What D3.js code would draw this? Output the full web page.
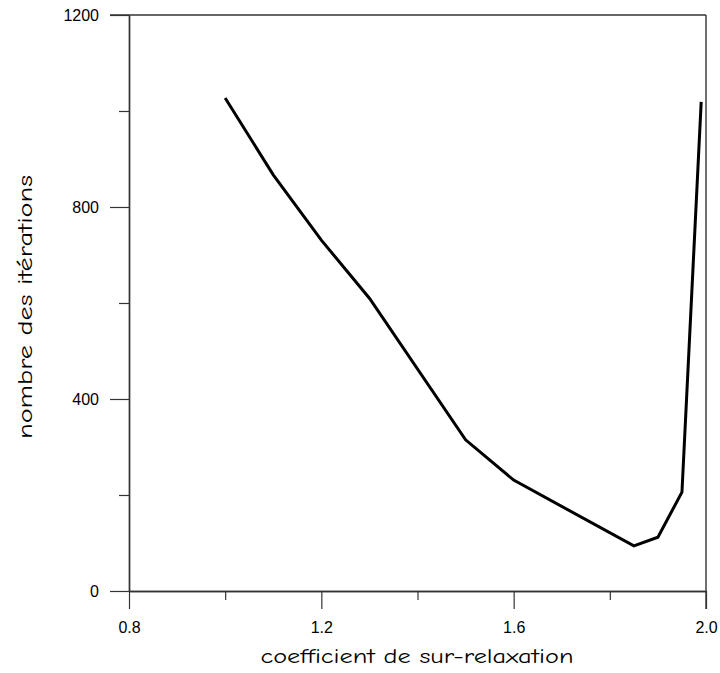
<!DOCTYPE html>
<html>
<head>
<meta charset="utf-8">
<script src="https://cdn.jsdelivr.net/npm/d3@7"></script>
<style>
  html, body { margin: 0; padding: 0; background: #fff; }
  svg { display: block; }
</style>
</head>
<body>
<script>
// Relaxation coefficient (omega) vs. number of iterations to converge
const omega = [1.0, 1.1, 1.2, 1.3, 1.5, 1.6, 1.85, 1.9, 1.95, 1.99];
const iterations = [1027, 867, 731, 610, 315, 231, 94, 112, 206, 1019];

const xMajorTicks = [0.8, 1.2, 1.6, 2.0];
const xMinorTicks = [1.0, 1.4, 1.8];
const yMajorTicks = [0, 400, 800, 1200];
const yMinorTicks = [200, 600, 1000];

const W = 720, H = 673;
const margin = { left: 129, top: 15, right: 14, bottom: 82 };
const iw = W - margin.left - margin.right;
const ih = H - margin.top - margin.bottom;

const tickFont = "'Liberation Sans', Arial, sans-serif";
const titleFont = "'Comic Sans MS', 'Comic Neue', 'DejaVu Sans', sans-serif";

const svg = d3.select("body").append("svg").attr("width", W).attr("height", H);
const g = svg.append("g").attr("transform", `translate(${margin.left},${margin.top})`);

const x = d3.scaleLinear().domain([0.8, 2.0]).range([0, iw]);
const y = d3.scaleLinear().domain([0, 1200]).range([ih, 0]);

const axisStroke = "#333";

// Bottom axis: major ticks labelled, minor ticks shorter
g.append("g").attr("transform", `translate(0,${ih})`)
  .call(d3.axisBottom(x).tickValues(xMajorTicks).tickFormat(d3.format(".1f")).tickSize(18).tickSizeOuter(0).tickPadding(13));
g.append("g").attr("transform", `translate(0,${ih})`)
  .call(d3.axisBottom(x).tickValues(xMinorTicks).tickFormat("").tickSize(9).tickSizeOuter(0));

// Left axis
g.append("g")
  .call(d3.axisLeft(y).tickValues(yMajorTicks).tickFormat(d3.format("d")).tickSize(19).tickSizeOuter(0).tickPadding(11));
g.append("g")
  .call(d3.axisLeft(y).tickValues(yMinorTicks).tickFormat("").tickSize(10).tickSizeOuter(0));

g.selectAll(".tick text")
  .attr("font-family", tickFont)
  .attr("font-size", 16)
  .attr("fill", "#000");

// Top and right frame edges
g.append("line").attr("x1", -19).attr("x2", iw).attr("y1", 0).attr("y2", 0)
  .attr("stroke", axisStroke).attr("stroke-width", 1.4);
g.append("line").attr("x1", iw).attr("x2", iw).attr("y1", 0).attr("y2", ih + 18)
  .attr("stroke", axisStroke).attr("stroke-width", 1.4);

g.selectAll(".domain").attr("stroke", axisStroke).attr("stroke-width", 1.4);
g.selectAll(".tick line").attr("stroke", axisStroke).attr("stroke-width", 1.2);

// Data line
const pts = omega.map((o, i) => [o, iterations[i]]);
g.append("path")
  .datum(pts)
  .attr("fill", "none")
  .attr("stroke", "#000")
  .attr("stroke-width", 3)
  .attr("stroke-linejoin", "miter")
  .attr("d", d3.line().x(d => x(d[0])).y(d => y(d[1])));

// Axis titles
svg.append("text")
  .attr("font-family", titleFont).attr("font-size", 20).attr("fill", "#000")
  .attr("x", margin.left + x(1.4) - 0.5).attr("y", 663)
  .attr("text-anchor", "middle")
  .attr("textLength", 313).attr("lengthAdjust", "spacingAndGlyphs")
  .text("coefficient de sur-relaxation");

svg.append("text")
  .attr("font-family", titleFont).attr("font-size", 20).attr("fill", "#000")
  .attr("transform", `translate(32,${margin.top + ih / 2 + 4}) rotate(-90)`)
  .attr("text-anchor", "middle")
  .attr("textLength", 264).attr("lengthAdjust", "spacingAndGlyphs")
  .text("nombre des itérations");
</script>
</body>
</html>
